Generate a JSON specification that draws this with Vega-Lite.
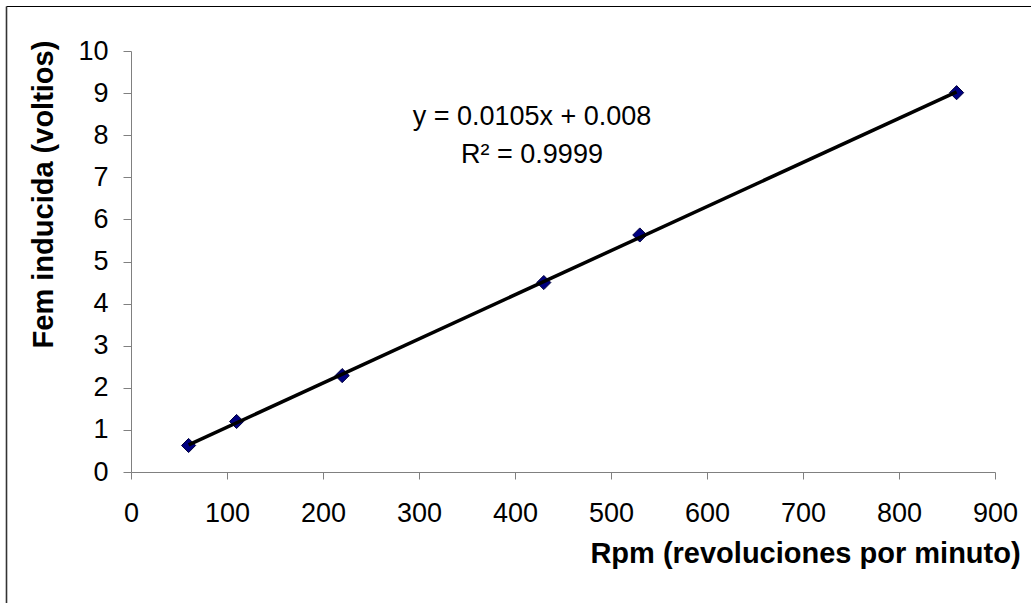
{
  "$schema": "https://vega.github.io/schema/vega-lite/v6.json",
  "width": 1025,
  "height": 597,
  "autosize": {"type": "none"},
  "padding": {"left": 6, "top": 6, "right": 0, "bottom": 0},
  "background": "white",
  "config": {"view": {"stroke": null}, "font": "Liberation Sans", "axis": {"grid": false}},
  "data": {"values": [
    {"rpm": 60, "fem": 0.63},
    {"rpm": 110, "fem": 1.2},
    {"rpm": 220, "fem": 2.29},
    {"rpm": 430, "fem": 4.5},
    {"rpm": 530, "fem": 5.63},
    {"rpm": 860, "fem": 9.01}
  ]},
  "layer": [
    {
      "encoding": {
        "x": {"field": "rpm", "type": "quantitative",
          "scale": {"domain": [0, 900], "range": [125, 989], "nice": false, "zero": true},
          "axis": {"orient": "bottom", "offset": -131, "values": [0,100,200,300,400,500,600,700,800,900],
            "labelFlush": false, "labelOverlap": false,
            "domainColor": "#808080", "tickColor": "#808080", "tickSize": 7, "labelPadding": 21,
            "labelFontSize": 27, "labelColor": "black", "labelFont": "Liberation Sans",
            "title": "Rpm (revoluciones por minuto)", "titleFontSize": 29, "titleFontWeight": "bold",
            "titleColor": "black", "titleFont": "Liberation Sans", "titleX": 799, "titleY": 81,
            "titleAlign": "center", "titleBaseline": "middle", "titleAnchor": null}},
        "y": {"field": "fem", "type": "quantitative",
          "scale": {"domain": [0, 10], "range": [466, 45], "nice": false, "zero": true},
          "axis": {"orient": "left", "offset": -125, "values": [0,1,2,3,4,5,6,7,8,9,10],
            "labelFlush": false, "labelOverlap": false,
            "domainColor": "#808080", "tickColor": "#808080", "tickSize": 8, "labelPadding": 15,
            "labelFontSize": 27, "labelColor": "black", "labelFont": "Liberation Sans",
            "title": "Fem inducida (voltios)", "titleFontSize": 29, "titleFontWeight": "bold",
            "titleColor": "black", "titleFont": "Liberation Sans", "titleAngle": -90,
            "titleX": -87.5, "titleY": 188, "titleAlign": "center", "titleBaseline": "middle", "titleAnchor": null}}
      },
      "layer": [
        {"mark": {"type": "point", "shape": "diamond", "filled": true, "fill": "#000080", "stroke": "#00003a", "strokeWidth": 1, "size": 200, "opacity": 1}},
        {"transform": [{"regression": "fem", "on": "rpm"}],
         "mark": {"type": "line", "color": "black", "strokeWidth": 3.5}},
        {"transform": [{"filter": "datum.rpm == 60"}],
         "mark": {"type": "text", "fontSize": 27, "align": "center", "baseline": "middle", "color": "black", "font": "Liberation Sans"},
         "encoding": {"x": {"datum": 417.7, "type": "quantitative"}, "y": {"datum": 8.44, "type": "quantitative"}, "text": {"value": "y = 0.0105x + 0.008"}}},
        {"transform": [{"filter": "datum.rpm == 60"}],
         "mark": {"type": "text", "fontSize": 27, "align": "center", "baseline": "middle", "color": "black", "font": "Liberation Sans"},
         "encoding": {"x": {"datum": 417.7, "type": "quantitative"}, "y": {"datum": 7.52, "type": "quantitative"}, "text": {"value": "R² = 0.9999"}}}
      ]
    },
    {
      "mark": {"type": "point", "opacity": 0, "clip": true},
      "encoding": {
        "x": {"field": "rpm", "type": "quantitative", "scale": {"domain": [0, 1]},
          "axis": {"orient": "top", "offset": 0, "domainColor": "black", "domainWidth": 1, "ticks": false, "labels": false, "title": null}},
        "y": {"field": "fem", "type": "quantitative", "scale": {"domain": [0, 1]},
          "axis": {"orient": "left", "offset": 0, "domainColor": "#333333", "domainWidth": 1.6, "ticks": false, "labels": false, "title": null}}
      }
    }
  ],
  "resolve": {"scale": {"x": "independent", "y": "independent"}, "axis": {"x": "independent", "y": "independent"}}
}
